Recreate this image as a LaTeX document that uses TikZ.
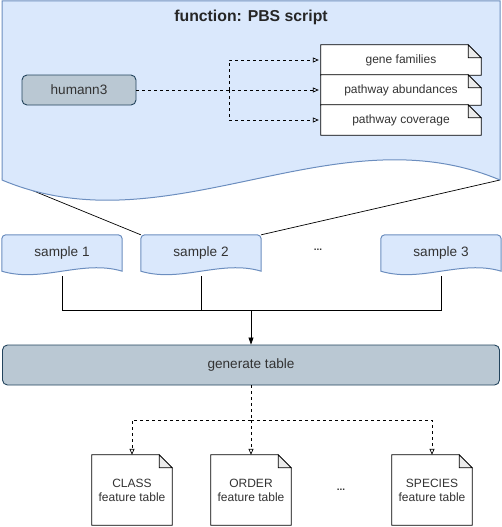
\documentclass[tikz,border=0pt]{standalone}
\usepackage{fontspec}
\setmainfont{Liberation Sans}
\usetikzlibrary{arrows.meta}
\definecolor{docfill}{HTML}{DAE8FC}
\definecolor{docline}{HTML}{6C8EBF}
\definecolor{boxfill}{HTML}{BAC8D3}
\definecolor{boxline}{HTML}{23445D}
\definecolor{txt}{HTML}{333333}

\begin{document}
\begin{tikzpicture}[x=1pt,y=-1pt]
\tikzset{grbox/.style={draw=boxline, fill=boxfill, rounded corners=5pt, text=txt, line width=0.9pt, font=\fontsize{13.6}{15}\selectfont}}
\tikzset{outfile/.style={minimum width=160pt, minimum height=30pt, inner sep=0pt, text=txt, font=\fontsize{12}{14}\selectfont}}
\tikzset{smp/.style={minimum width=120pt, minimum height=36pt, inner sep=0pt, text=txt, font=\fontsize{13.6}{15}\selectfont}}
\tikzset{ftab/.style={minimum width=80pt, minimum height=70pt, inner sep=0pt, text=txt, align=center, font=\fontsize{12}{14}\selectfont}}
\tikzset{darr/.style={dashed, line width=0.7pt, -{Triangle[open, length=6pt, width=5pt]}}}
\useasboundingbox (0,0) rectangle (502,527);
\coordinate (pbsL) at (2,178);
\coordinate (pbsR) at (500,180);
\node[smp] (s1) at (62,253) {};
\node[smp] (s2) at (201,253) {};
\node[smp] (s3) at (441,253) {};
\node[text=txt, font=\bfseries] (dots1) at (318,250) {...};
\draw[line width=0.7pt] (pbsL) -- (s2.north west);
\draw[line width=0.7pt] (pbsR) -- (s2.north east);
% function box
\draw[docline, fill=docfill, line width=1pt] (500,180) -- (500,1) -- (2,1) -- (2,180)
  .. controls (168,250) and (334,110) .. (500,180);
\node[font=\bfseries\fontsize{15.8}{18}\selectfont, text=black!85] (pbs) at (251,17) {function: PBS script};
\node[grbox, minimum width=114pt, minimum height=30pt] (hum) at (79,90) {humann3};
\node[outfile] (gene) at (401,60) {};
\node[outfile] (abund) at (401,90) {};
\node[outfile] (cov) at (401,120) {};
\foreach \f in {gene,abund,cov} {
  \draw[line width=0.8pt, fill=white] (\f.south west) -- (\f.north west) -- ([xshift=-13pt]\f.north east)
    -- ([yshift=-13pt]\f.north east) -- (\f.south east) -- cycle;
  \draw[line width=0.8pt, fill=black!8] ([xshift=-13pt]\f.north east) -- ([xshift=-13pt,yshift=-13pt]\f.north east)
    -- ([yshift=-13pt]\f.north east) -- cycle;
}
\node[outfile] at (gene) {gene families};
\node[outfile] at (abund) {pathway abundances};
\node[outfile] at (cov) {pathway coverage};
\coordinate (split) at (229,90);
\draw[darr] (hum.east) -- ([xshift=-2pt]abund.west);
\draw[darr] (split) |- ([xshift=-2pt]gene.west);
\draw[darr] (split) |- ([xshift=-2pt]cov.west);
% samples
\foreach \s in {s1,s2,s3}
  \draw[docline, fill=docfill, line width=1pt] (\s.south west) [rounded corners=4pt] -- (\s.north west) -- (\s.north east)
    [sharp corners] -- (\s.south east) .. controls +(-40,-12) and +(40,12) .. (\s.south west) -- cycle;
\node[smp] at (s1) {sample 1};
\node[smp] at (s2) {sample 2};
\node[smp] at (s3) {sample 3};
\coordinate (join) at (251,310);
\draw[line width=0.7pt] ([yshift=-5pt]s1.south) |- (join);
\draw[line width=0.7pt] ([yshift=-5pt]s2.south) -- (s2.south |- join);
\draw[line width=0.7pt] ([yshift=-5pt]s3.south) |- (join);
\node[grbox, minimum width=497pt, minimum height=40pt] (gen) at (251,365) {generate table};
\draw[line width=0.7pt, -{Triangle[length=7pt, width=5pt]}] (join) -- (gen.north);
% feature tables
\node[ftab] (fc) at (132,490) {};
\node[ftab] (fo) at (251,490) {};
\node[ftab] (fs) at (432,490) {};
\foreach \t in {fc,fo,fs} {
  \draw[line width=0.8pt, fill=white] (\t.south west) -- (\t.north west) -- ([xshift=-13pt]\t.north east)
    -- ([yshift=-13pt]\t.north east) -- (\t.south east) -- cycle;
  \draw[line width=0.8pt, fill=black!8] ([xshift=-13pt]\t.north east) -- ([xshift=-13pt,yshift=-13pt]\t.north east)
    -- ([yshift=-13pt]\t.north east) -- cycle;
}
\node[ftab] at (fc) {CLASS\\feature table};
\node[ftab] at (fo) {ORDER\\feature table};
\node[ftab] at (fs) {SPECIES\\feature table};
\node[text=txt, font=\bfseries] (dots2) at (341,490) {...};
\coordinate (fork) at (251,420);
\draw[dashed, line width=0.7pt] (gen.south) -- (fork);
\foreach \t in {fc,fo,fs}
  \draw[darr] (fork) -| (\t.north);
\end{tikzpicture}
\end{document}
